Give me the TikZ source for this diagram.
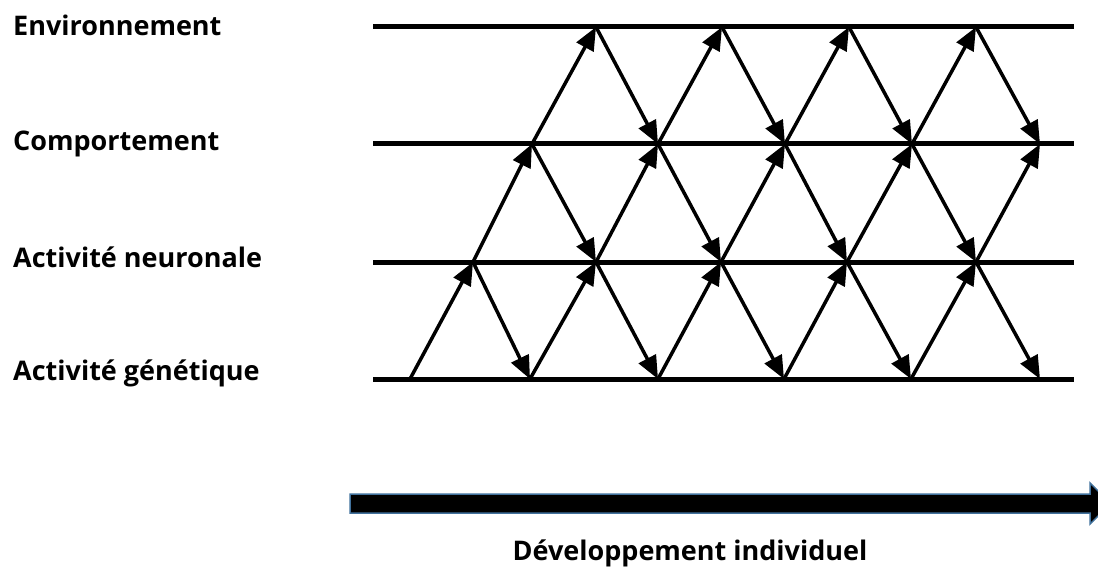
\documentclass[tikz,border=0pt]{standalone}
\usepackage{fontspec}
\setmainfont{Open Sans}
\usetikzlibrary{arrows.meta}
\definecolor{barblue}{RGB}{65,113,156}

\begin{document}
\begin{tikzpicture}[x=1pt, y=-1pt,
  lbl/.style={anchor=base west, inner sep=0pt, font=\fontsize{27}{32}\selectfont\bfseries},
  level/.style={line width=5pt},
  arr/.style={-{Triangle[length=23pt, width=19pt]}, line width=3.5pt}
]
\useasboundingbox (0,0) rectangle (1098,567);
\clip (0,0) rectangle (1098,567);

% the four levels
\foreach \y/\nm in {27/env,144/comp,262/neur,379/gen} {
  \coordinate (\nm-l) at (373,\y);
  \coordinate (\nm-r) at (1074,\y);
  \draw[level] (\nm-l) -- (\nm-r);
}

% crossing points
\coordinate (g0) at (410,379);
\foreach \x [count=\i] in {530,658,784,911,1040} \coordinate (g\i) at (\x,379);
\foreach \x [count=\i] in {473,596,721,847,976} \coordinate (n\i) at (\x,262);
\foreach \x [count=\i] in {532,658,785,912,1040} \coordinate (c\i) at (\x,144);
\foreach \x [count=\i] in {596,722,849,976} \coordinate (e\i) at (\x,27);

\draw[arr] (g0) -- (n1);
\foreach \i in {1,...,5} {
  \draw[arr] (n\i) -- (g\i);
  \draw[arr] (n\i) -- (c\i);
}
\foreach \i [evaluate=\i as \j using int(\i+1)] in {1,...,4} {
  \draw[arr] (g\i) -- (n\j);
  \draw[arr] (c\i) -- (n\j);
  \draw[arr] (c\i) -- (e\i);
  \draw[arr] (e\i) -- (c\j);
}

\node[lbl] (env) at (13,36) {Environnement};
\node[lbl] (comp) at (13,150) {Comportement};
\node[lbl] (neur) at (13,267) {Activité neuronale};
\node[lbl] (gen) at (13,380) {Activité génétique};

% time axis
\filldraw[fill=black, draw=barblue, line width=1.5pt] (350,494) -- (1090,494) -- (1090,483)
  -- (1111,503.5) -- (1090,524) -- (1090,513) -- (350,513) -- cycle;
\node[lbl, anchor=base] (dev) at (690,560) {Développement individuel};
\end{tikzpicture}
\end{document}
